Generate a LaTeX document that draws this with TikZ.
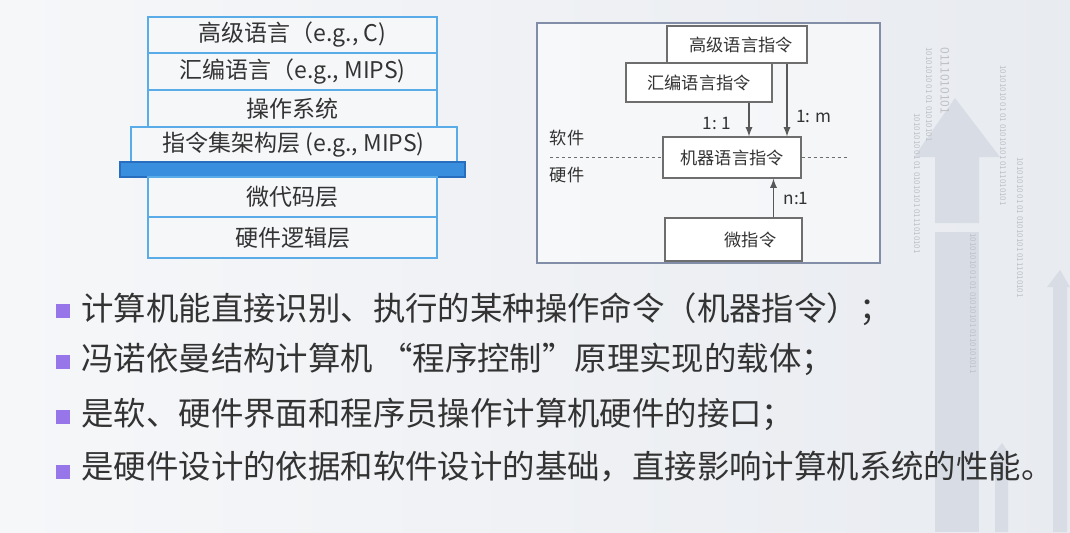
\documentclass[tikz,border=0pt]{standalone}
\usepackage{fontspec}
\setmainfont{Noto Sans CJK SC}
\usetikzlibrary{positioning,calc,arrows}

\definecolor{laybord}{RGB}{90,172,232}
\definecolor{barblue}{RGB}{58,142,222}
\definecolor{bardark}{RGB}{40,110,190}
\definecolor{txt}{RGB}{51,51,51}
\definecolor{boxgray}{RGB}{110,110,110}
\definecolor{framegray}{RGB}{130,142,168}
\definecolor{bullet}{RGB}{150,118,232}
\definecolor{bgl}{RGB}{246,247,249}
\definecolor{bgr}{RGB}{232,235,240}
\definecolor{faint}{RGB}{216,221,229}

\tikzset{
  layer/.style={draw=laybord, line width=1pt, fill=bgl, text=txt, minimum width=144.5pt, inner sep=0pt, font=\fontsize{11.5}{13}\selectfont},
  instr/.style={draw=boxgray, line width=0.6pt, fill=white, text=txt, inner sep=0pt, font=\fontsize{8.6}{10}\selectfont},
  arr/.style={-latex, draw=boxgray!80!black, line width=0.6pt},
  lbl/.style={text=txt, inner sep=0pt, font=\fontsize{8.6}{10}\selectfont},
  item/.style={anchor=west, text=txt, inner sep=0pt, font=\fontsize{16.2}{18}\selectfont},
  sq/.style={fill=bullet, minimum size=7pt, inner sep=0pt},
  bits/.style={rotate=-90, anchor=west, text=faint!70!gray, inner sep=0pt, font=\fontsize{4}{5}\selectfont}
}

\begin{document}
\begin{tikzpicture}[x=0.5pt,y=-0.5pt]
    % background
    \shade[left color=bgl, right color=bgr] (0,0) rectangle (1070,532);
    \useasboundingbox (0,0) rectangle (1070,532);

    % faint arrows
    \fill[faint] (955,98) -- (1000,157) -- (979,157) -- (979,223) -- (935,223) -- (935,157) -- (914,157) -- cycle;
    \fill[faint] (935,232) rectangle (979,532);
    \fill[faint] (1060,270) -- (1070,287) -- (1067,287) -- (1067,532) -- (1053,532) -- (1053,287) -- (1047,287) -- cycle;
    \fill[faint] (1002,443) -- (1011,456) -- (1008,456) -- (1008,532) -- (995,532) -- (995,456) -- (992,456) -- cycle;
    \node[bits, font=\fontsize{6}{7}\selectfont] (b1) at (945,47) {0111010101};
    \node[bits] (b2) at (929,47) {10101010 01 01 01010101};
    \node[bits] (b3) at (917,113) {10101010 01 01 01010101 0111010101};
    \node[bits] (b4) at (1003,65) {10101010 01 01 01010101 0111010101};
    \node[bits] (b5) at (1020,157) {10101010 01 01 01010101 0111010101};
    \node[bits] (b6) at (973,233) {10101010 01 01 01010101 0110101011};

    % layer stack
    \node[layer, minimum height=18pt] (hl) at (292.5,35) {高级语言（e.g., C)};
    \node[layer, minimum height=18.5pt] (as) at (292.5,71.5) {汇编语言（e.g., MIPS)};
    \node[layer, minimum height=18.5pt] (os) at (292.5,108.5) {操作系统};
    \node[layer, minimum width=163pt, minimum height=17.5pt] (isa) at (293.5,144.5) {指令集架构层 (e.g., MIPS)};
    \node[draw=bardark, fill=barblue, line width=0.6pt, minimum width=172.5pt, minimum height=7.5pt, inner sep=0pt] (bar) at (292.5,169.5) {};
    \node[layer, minimum height=20pt] (mc) at (292.5,197) {微代码层};
    \node[layer, minimum height=20.5pt] (hw) at (292.5,237.5) {硬件逻辑层};

    % instruction levels
    \draw[framegray, line width=0.7pt, fill=white, fill opacity=0.5] (537,23) rectangle (880,263);
    \node[instr, minimum width=70pt, minimum height=18.5pt] (hll) at (737,44.5) {\hspace*{4pt}高级语言指令};
    \node[instr, minimum width=73pt, minimum height=19.5pt] (asm) at (699,82.5) {汇编语言指令};
    \node[instr, minimum width=69pt, minimum height=20.5pt] (mach) at (732,157.5) {机器语言指令};
    \node[instr, minimum width=68.5pt, minimum height=21.5pt] (micro) at (733.5,239.5) {\hspace*{17pt}微指令};

    \draw[arr] ([xshift=25pt]asm.south) -- ([xshift=25pt]asm.south |- mach.north);
    \draw[arr] ([xshift=25pt]hll.south) -- ([xshift=25pt]hll.south |- mach.north);
    \draw[arr] ([xshift=20pt]micro.north) -- ([xshift=20pt]micro.north |- mach.south);
    \node[lbl] (r1) at (717,123) {1: 1};
    \node[lbl] (r2) at (814,116) {1: m};
    \node[lbl] (r3) at (796,198) {n:1};

    \coordinate (dl) at (550,157.5);
    \coordinate (dr) at (847,157.5);
    \draw[boxgray, line width=0.5pt, dash pattern=on 1.5pt off 1.5pt] (dl) -- (mach.west);
    \draw[boxgray, line width=0.5pt, dash pattern=on 1.5pt off 1.5pt] (mach.east) -- (dr);
    \node[lbl] (sw) at (567,138) {软件};
    \node[lbl] (hwl) at (567,175) {硬件};

    % bullet list
    \node[sq] (s1) at (63,310.5) {};
    \node[sq] (s2) at (63,361.5) {};
    \node[sq] (s3) at (63,416.5) {};
    \node[sq] (s4) at (63,471.5) {};
    \node[item] (t1) at (81,309) {计算机能直接识别、执行的某种操作命令（机器指令）；};
    \node[item] (t2) at (81,359) {冯诺依曼结构计算机 “程序控制”原理实现的载体；};
    \node[item] (t3) at (81,414) {是软、硬件界面和程序员操作计算机硬件的接口；};
    \node[item] (t4) at (81,467) {是硬件设计的依据和软件设计的基础，直接影响计算机系统的性能。};
\end{tikzpicture}
\end{document}
